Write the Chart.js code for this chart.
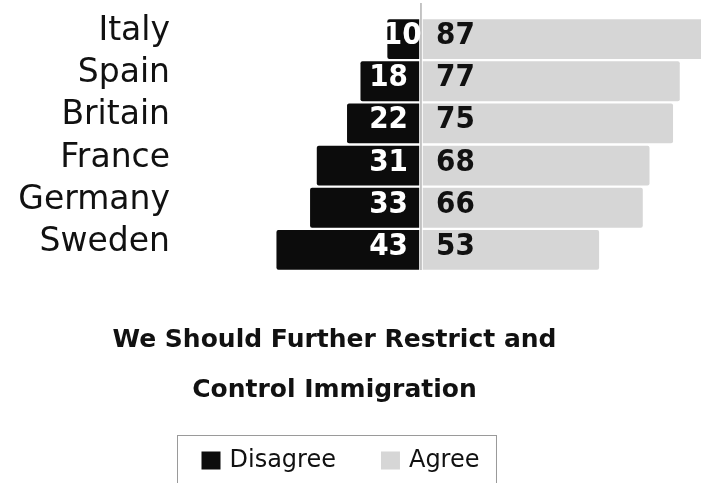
<!DOCTYPE html>
<html><head><meta charset="utf-8">
<script src="https://cdn.jsdelivr.net/npm/chart.js@4/dist/chart.umd.min.js"></script>
<style>html,body{margin:0;padding:0;background:#fff;} #wrap{width:701px;height:483px;position:relative;}</style>
</head><body><div id="wrap"><canvas id="c"></canvas></div>
<script>
const countries = ['Italy', 'Spain', 'Britain', 'France', 'Germany', 'Sweden'];
const disagree = [10, 18, 22, 31, 33, 43];
const agree = [87, 77, 75, 68, 66, 53];
const seriesNames = ['Disagree', 'Agree'];
const titleLines = ['We Should Further Restrict and', 'Control Immigration'];

const BLACK = '#0c0c0c';
const GRAY = '#d6d6d6';
const TEXT = '#111111';

const overlay = {
  id: 'overlay',
  afterDatasetsDraw(chart) {
    const ctx = chart.ctx;
    const area = chart.chartArea;
    const x0 = chart.scales.x.getPixelForValue(0);
    ctx.save();
    ctx.fillStyle = '#ffffff';
    ctx.fillRect(x0 - 1.8, area.top, 3.6, area.bottom - area.top);
    ctx.fillStyle = '#8c8c8c';
    ctx.fillRect(x0 - 0.5, 3, 1, area.bottom - 4);
    ctx.font = 'bold 31px "DejaVu Sans Condensed", "DejaVu Sans", sans-serif';
    ctx.textBaseline = 'middle';
    const m0 = chart.getDatasetMeta(0).data;
    const m1 = chart.getDatasetMeta(1).data;
    disagree.forEach((v, i) => {
      const el = m0[i];
      const t = String(v);
      const w = ctx.measureText(t).width;
      const left = Math.min(el.x, el.base);
      ctx.fillStyle = '#ffffff';
      if (x0 - 13 - w >= left + 2) {
        ctx.textAlign = 'right';
        ctx.fillText(t, x0 - 13, el.y - 3);
      } else {
        ctx.textAlign = 'center';
        ctx.fillText(t, (left + x0) / 2 - 2, el.y - 3);
      }
    });
    agree.forEach((v, i) => {
      const el = m1[i];
      ctx.textAlign = 'left';
      ctx.fillStyle = TEXT;
      ctx.fillText(String(v), x0 + 15, el.y - 3);
    });
    ctx.restore();
  },
  afterDraw(chart) {
    const ctx = chart.ctx;
    ctx.save();
    ctx.font = '24px "DejaVu Sans", sans-serif';
    const box = 19, gap = 9, itemGap = 45, padL = 24, padR = 17;
    const colors = [BLACK, GRAY];
    const widths = seriesNames.map(s => ctx.measureText(s).width);
    let total = 0;
    widths.forEach((w, i) => { total += box + gap + w + (i < widths.length - 1 ? itemGap : 0); });
    const frameW = total + padL + padR;
    const center = (chart.width - 32) / 2 + 1.8;
    const frameL = Math.round(center - frameW / 2) + 0.5;
    const frameT = chart.height - 48 + 0.5;
    ctx.strokeStyle = '#9a9a9a';
    ctx.lineWidth = 1;
    ctx.strokeRect(frameL, frameT, frameW, 80);
    let x = frameL + padL;
    const cy = frameT + 25;
    ctx.textBaseline = 'middle';
    ctx.textAlign = 'left';
    seriesNames.forEach((s, i) => {
      ctx.fillStyle = colors[i];
      ctx.fillRect(x, cy - 9, box, 18);
      ctx.fillStyle = TEXT;
      ctx.fillText(s, x + box + gap, cy);
      x += box + gap + widths[i] + itemGap;
    });
    ctx.restore();
  }
};

new Chart(document.getElementById('c'), {
  type: 'bar',
  data: {
    labels: countries,
    datasets: [
      { label: seriesNames[0], data: disagree.map(v => -v), backgroundColor: BLACK, stack: 's',
        barPercentage: 0.945, categoryPercentage: 1, borderRadius: 2, clip: false },
      { label: seriesNames[1], data: agree, backgroundColor: GRAY, stack: 's',
        barPercentage: 0.945, categoryPercentage: 1, borderRadius: 2, clip: false }
    ]
  },
  options: {
    indexAxis: 'y',
    responsive: true,
    maintainAspectRatio: false,
    animation: false,
    layout: { padding: { top: 18, right: 32, bottom: 48, left: 0 } },
    scales: {
      x: { display: false, stacked: true, min: -71.7, max: 73.8 },
      y: {
        stacked: true,
        grid: { display: false, drawTicks: false },
        border: { display: false },
        ticks: { autoSkip: false, font: { family: 'DejaVu Sans', size: 33 }, color: TEXT, padding: 10, labelOffset: -7.5 },
        afterFit: s => { s.width = 180; s.paddingTop = 0; s.paddingBottom = 0; }
      }
    },
    plugins: {
      legend: { display: false },
      tooltip: { enabled: false },
      title: {
        display: true,
        position: 'bottom',
        text: titleLines,
        color: TEXT,
        font: { family: 'DejaVu Sans', weight: 'bold', size: 25, lineHeight: 2 },
        padding: { top: 44.6, bottom: 19.4 }
      }
    }
  },
  plugins: [overlay]
});
</script>
</body></html>
